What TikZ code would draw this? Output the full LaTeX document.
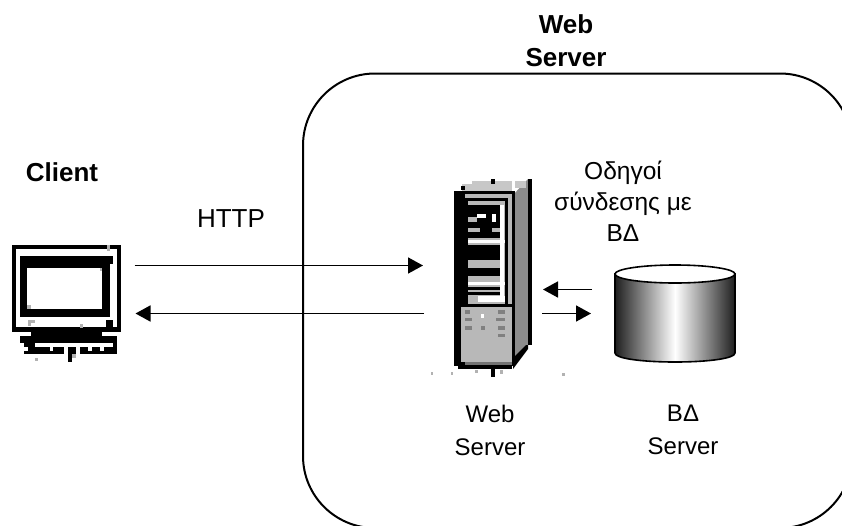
\documentclass[tikz,border=0pt]{standalone}
\usepackage{fontspec}
\setmainfont{Liberation Sans}
\usetikzlibrary{arrows.meta}
\newcommand{\bx}[5]{\fill[#1] (#2,#3) rectangle (#4,#5);}
\tikzset{
  lab/.style={font=\fontsize{26}{33}\selectfont,align=center,inner sep=0pt},
  flow/.style={draw=black,line width=1.7pt,-{Triangle[length=15pt,width=16pt]}},
}
\begin{document}
\begin{tikzpicture}[x=1pt,y=-1pt]
\useasboundingbox (0,0) rectangle (842,525);
\clip (0,0) rectangle (842,525);
\fill[white] (0,0) rectangle (842,525);
\draw[line width=2pt,rounded corners=72pt] (303,73.5) rectangle (852,528);

% client computer
\bx{black}{12}{245}{121}{332}
\bx{white}{16}{249}{117}{327}
\bx{black}{20}{256}{113}{264}
\bx{black}{20}{264}{110}{317}
\bx{white}{27}{268}{102}{309}
\bx{black}{106}{320}{113}{327}
\bx{black}{31}{332}{102}{336}
\bx{black}{20}{336}{117}{343}
\bx{black}{24}{343}{117}{354}
\bx{white}{35}{343}{113}{347}
\bx{white}{24}{347}{28}{351}
\bx{white}{50}{347}{53}{351}
\bx{white}{64}{347}{68}{354}
\bx{white}{76}{347}{80}{354}
\bx{white}{88}{347}{92}{351}
\bx{white}{100}{347}{104}{351}
\bx{black}{68}{354}{72}{362}
\bx{black!30}{35}{358}{38}{361}
\bx{black!30}{72}{354}{76}{358}
\bx{black!30}{28}{320}{31}{326}
\bx{black!30}{31}{320}{35}{323}
\bx{black!30}{80}{324}{83}{328}
\bx{black!30}{27}{305}{31}{309}
\bx{black!30}{100}{268}{102}{271}
\bx{black!30}{107}{245}{110}{251}

% server tower: side and top
\fill[black!45] (513,195) -- (528,179) -- (528,345) -- (513,360) -- cycle;
\bx{black}{528}{179}{532}{345}
\bx{black!22}{472}{181}{512}{191}
\bx{black!22}{515}{181}{526}{188}
\bx{black!22}{462}{184}{472}{191}
\bx{black}{461}{186}{465}{190}
\bx{black}{491}{179}{495}{184}
\fill[black] (513,358) -- (526,345) -- (528,345) -- (528,349) -- (513,369) -- cycle;
% server tower: front
\bx{black}{454}{191}{515}{366}
\bx{black!28}{465}{194}{512}{198}
\bx{black!28}{508}{198}{512}{304}
\bx{black!28}{468}{201}{505}{304}
\bx{black}{468}{205}{500}{238}
\bx{white}{500}{205}{504}{300}
\bx{white}{477}{214}{486}{218}
\bx{white}{492}{214}{496}{222}
\bx{black!28}{468}{217}{477}{222}
\bx{black!28}{468}{228}{480}{232}
\bx{black!28}{492}{228}{500}{232}
\bx{white}{468}{240}{505}{243}
\bx{black}{468}{245}{500}{260}
\bx{black}{468}{268}{500}{276}
\bx{white}{468}{282}{505}{285}
\bx{black}{468}{287}{500}{290}
\bx{black}{468}{292}{500}{295}
\bx{white}{478}{296}{505}{302}
\bx{black!28}{461}{307}{512}{362}
\bx{black!55}{465}{362}{512}{365}
\bx{white}{481}{314}{484}{318}
\bx{black!50}{498}{310}{505}{314}
\bx{black!50}{465}{310}{470}{314}
\bx{black!50}{465}{318}{472}{321}
\bx{black!50}{496}{318}{505}{321}
\bx{black!50}{465}{326}{472}{330}
\bx{black!50}{481}{326}{485}{330}
\bx{black!50}{498}{326}{505}{330}
\bx{black!50}{498}{334}{505}{337}
\bx{black}{458}{365}{512}{369}
\bx{black}{491}{369}{495}{377}
\bx{black!30}{475}{370}{478}{373}
\bx{black!30}{500}{370}{503}{374}
\bx{black!30}{451}{372}{453}{375}
\bx{black!30}{431}{372}{433}{375}
\bx{black!30}{562}{373}{565}{376}

% database
\draw[line width=1.6pt,left color=black!88,right color=black!88,middle color=white]
  (615,274) -- (615,353) .. controls (615,358.5) and (642,362) .. (675,362)
  .. controls (708,362) and (735,358.5) .. (735,353) -- (735,274) -- cycle;
\draw[line width=1.6pt,fill=white] (675,274) ellipse[x radius=60,y radius=9];

% connectors
\coordinate (clientOut) at (134.5,265.5);
\coordinate (serverIn) at (423,265.5);
\coordinate (serverOut) at (424,313.5);
\coordinate (clientIn) at (135.5,313.5);
\coordinate (dbOut) at (592,289.5);
\coordinate (srvIn) at (543,289.5);
\coordinate (srvOut) at (542,313.5);
\coordinate (dbIn) at (591,313.5);
\draw[flow] (clientOut) -- (serverIn);
\draw[flow] (serverOut) -- (clientIn);
\draw[flow] (dbOut) -- (srvIn);
\draw[flow] (srvOut) -- (dbIn);

% labels
\node[lab,font=\fontsize{26}{33}\selectfont\bfseries] (title) at (566,41) {Web\\Server};
\node[lab,font=\fontsize{26}{33}\selectfont\bfseries] (client) at (62,172) {Client};
\node[lab] (http) at (231,219) {HTTP};
\node[lab,font=\fontsize{24.5}{31}\selectfont] (drivers) at (623,201) {Οδηγοί\\σύνδεσης με\\ΒΔ};
\node[lab,font=\fontsize{24}{33}\selectfont] (ws) at (490,430) {Web\\Server};
\node[lab,font=\fontsize{24}{33}\selectfont] (dbs) at (683,430) {ΒΔ\\Server};
\end{tikzpicture}
\end{document}
